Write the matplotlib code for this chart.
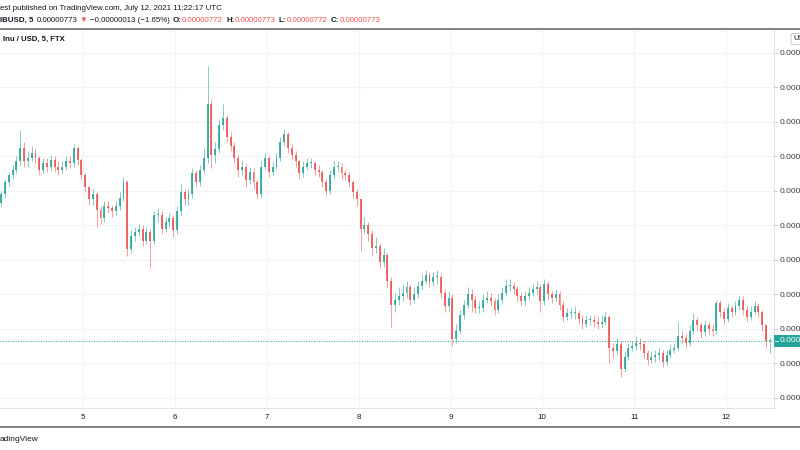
import matplotlib
matplotlib.use("Agg")
import matplotlib.pyplot as plt
from matplotlib.patches import Rectangle
from matplotlib.lines import Line2D
import numpy as np

plt.rcParams['font.family'] = ['Liberation Sans', 'DejaVu Sans']

# ---------------- data (hourly candles, SHIB/USD, prices in units of 1e-8 USD) ----------------
first_hour = 2  # first candle: July 4, 02:00 UTC (hours counted from July 4 00:00)
opens = [853, 858, 865, 869, 872, 877, 885, 877, 879, 882, 879, 872, 876, 874, 878, 874, 872, 874, 877, 876,
         885, 878, 869, 862, 855, 858, 849, 844, 851, 850, 848, 851, 856, 865, 826, 834, 836, 838, 831, 836,
         831, 846, 846, 838, 842, 844, 837, 848, 859, 855, 858, 870, 865, 872, 879, 910, 881, 884, 898, 902,
         891, 886, 879, 872, 874, 866, 871, 865, 858, 874, 879, 871, 874, 879, 888, 893, 885, 881, 877, 870,
         874, 876, 876, 872, 871, 865, 860, 869, 874, 874, 870, 869, 865, 859, 855, 838, 840, 835, 827, 828,
         819, 823, 808, 794, 797, 799, 801, 804, 797, 800, 805, 808, 811, 807, 810, 810, 801, 793, 798, 774,
         779, 788, 794, 800, 797, 792, 792, 797, 798, 796, 791, 797, 801, 805, 805, 803, 799, 796, 799, 801,
         803, 804, 796, 806, 800, 798, 800, 794, 787, 789, 789, 789, 786, 783, 785, 785, 784, 783, 784, 787,
         769, 767, 771, 757, 764, 769, 770, 772, 771, 766, 762, 764, 765, 766, 761, 765, 768, 769, 776, 775,
         772, 779, 785, 782, 778, 782, 780, 779, 795, 790, 786, 792, 790, 793, 797, 791, 787, 790, 793, 790,
         782, 773]
closes = [858, 865, 869, 872, 877, 885, 877, 879, 882, 879, 872, 876, 874, 878, 874, 872, 874, 877, 876, 885,
          878, 869, 862, 855, 858, 849, 844, 851, 850, 848, 851, 856, 865, 826, 834, 836, 838, 831, 836, 831,
          846, 846, 838, 842, 844, 837, 848, 859, 855, 858, 870, 865, 872, 879, 910, 881, 884, 898, 902, 891,
          886, 879, 872, 874, 866, 871, 865, 858, 874, 879, 871, 874, 879, 888, 893, 885, 881, 877, 870, 874,
          876, 876, 872, 871, 865, 860, 869, 874, 874, 870, 869, 865, 859, 855, 838, 840, 835, 827, 828, 819,
          823, 808, 794, 797, 799, 801, 804, 797, 800, 805, 808, 811, 807, 810, 810, 801, 793, 798, 774, 779,
          788, 794, 800, 797, 792, 792, 797, 798, 796, 791, 797, 801, 805, 805, 803, 799, 796, 799, 801, 803,
          804, 796, 806, 800, 798, 800, 794, 787, 789, 789, 789, 786, 783, 785, 785, 784, 783, 784, 787, 769,
          767, 771, 757, 764, 769, 770, 772, 771, 766, 762, 764, 765, 766, 761, 765, 768, 769, 776, 775, 772,
          779, 785, 782, 778, 782, 780, 779, 795, 790, 786, 792, 790, 793, 797, 791, 787, 790, 793, 790, 782,
          773, 773]
highs = [860, 867, 871, 875, 880, 895, 888, 883, 886, 885, 880, 879, 879, 881, 880, 877, 877, 880, 880, 887,
         886, 879, 870, 863, 861, 859, 851, 854, 854, 852, 854, 859, 868, 866, 837, 839, 841, 840, 839, 838,
         848, 850, 848, 845, 847, 846, 851, 864, 861, 861, 873, 872, 875, 885, 932, 913, 888, 901, 910, 904,
         894, 888, 881, 878, 876, 874, 873, 867, 877, 882, 880, 877, 882, 891, 896, 894, 887, 883, 878, 877,
         879, 879, 877, 875, 872, 867, 872, 877, 877, 876, 872, 871, 866, 861, 856, 845, 842, 837, 833, 830,
         827, 824, 810, 801, 804, 806, 808, 806, 804, 808, 812, 814, 813, 813, 814, 812, 803, 802, 800, 783,
         791, 797, 804, 803, 799, 796, 800, 802, 801, 798, 800, 804, 809, 809, 807, 805, 801, 802, 804, 806,
         808, 806, 809, 808, 802, 803, 802, 796, 792, 792, 793, 791, 788, 788, 788, 788, 787, 788, 790, 788,
         772, 775, 773, 767, 772, 773, 776, 775, 773, 768, 767, 768, 769, 768, 768, 771, 772, 784, 779, 777,
         782, 789, 787, 784, 785, 784, 783, 797, 797, 792, 795, 794, 796, 799, 799, 793, 793, 796, 795, 791,
         783, 775]
lows = [851, 856, 863, 867, 870, 875, 874, 874, 877, 876, 869, 870, 871, 872, 871, 869, 870, 872, 873, 874,
        875, 866, 859, 852, 852, 839, 841, 842, 847, 845, 846, 849, 854, 822, 824, 831, 834, 828, 829, 815,
        829, 842, 835, 836, 839, 833, 835, 846, 852, 852, 856, 862, 863, 870, 876, 873, 876, 882, 895, 888,
        883, 876, 868, 869, 862, 864, 861, 855, 856, 872, 868, 869, 872, 877, 886, 882, 878, 874, 867, 868,
        872, 873, 869, 868, 862, 857, 858, 867, 871, 867, 866, 862, 856, 851, 825, 835, 831, 823, 824, 815,
        816, 804, 781, 790, 794, 796, 798, 794, 795, 798, 803, 806, 804, 805, 806, 798, 790, 790, 770, 772,
        777, 786, 792, 790, 789, 789, 790, 795, 793, 788, 789, 795, 799, 802, 800, 796, 793, 794, 797, 799,
        800, 790, 794, 797, 795, 796, 791, 784, 785, 786, 786, 783, 780, 781, 782, 781, 780, 781, 782, 760,
        763, 765, 752, 755, 762, 767, 768, 768, 763, 759, 760, 761, 762, 758, 759, 763, 766, 767, 772, 769,
        770, 777, 779, 775, 776, 777, 776, 777, 787, 783, 784, 787, 788, 791, 788, 784, 785, 788, 787, 779,
        769, 766]
last_price = 773
day_ticks = [5, 6, 7, 8, 9, 10, 11, 12]
price_ticks = [740, 760, 780, 800, 820, 840, 860, 880, 900, 920, 940]

UP = '#26a69a'
DOWN = '#ef5350'
TXT = '#131722'

W, H = 800, 450
fig = plt.figure(figsize=(8, 4.5), dpi=100)


def fx(x):
    return x / W


def fy(y):
    return 1 - y / H


# main chart axes: pixel box x 0..774, y 30..408
ax = fig.add_axes([0, fy(408), fx(774), (408 - 30) / H])
scale = 1e-8
o = np.array(opens) * scale
c = np.array(closes) * scale
h = np.array(highs) * scale
l = np.array(lows) * scale
t = first_hour + 0.5 + np.arange(len(opens))
cols = [UP if cc >= oo else DOWN for oo, cc in zip(o, c)]

ax.vlines(t, l, h, colors=cols, linewidth=0.5, alpha=0.8, zorder=3)
body_h = np.maximum(np.abs(c - o), 0.6 * scale)
ax.bar(t, body_h, bottom=np.minimum(o, c), width=0.5, color=cols, linewidth=0, alpha=0.85, zorder=4)

ax.set_xlim(2.22, 204.57)
ax.set_ylim(734.2 * scale, 953.1 * scale)

ax.set_xticks([(d - 4) * 24 for d in day_ticks])
ax.set_xticklabels([str(d) for d in day_ticks])
ax.set_yticks([p * scale for p in price_ticks])
ax.set_yticklabels([f"{p * scale:.8f}" for p in price_ticks])
ax.yaxis.tick_right()
ax.grid(True, color='#f2f3f6', linewidth=0.8, zorder=0)
ax.tick_params(axis='x', length=0, pad=4.5, labelsize=5.8, labelcolor=TXT)
ax.tick_params(axis='y', length=2.5, width=0.6, color='#b2b5be', pad=1.8, labelsize=6.0, labelcolor='#3a3e4a')
for s in ['top', 'left']:
    ax.spines[s].set_visible(False)
for s in ['right', 'bottom']:
    ax.spines[s].set_color('#e0e3eb')
    ax.spines[s].set_linewidth(0.8)

# current price dotted line
ax.axhline(last_price * scale, color=UP, linestyle=(0, (1, 1.6)), linewidth=0.7, zorder=5)

# frame lines (header / footer separators)
fig.add_artist(Line2D([0, 1], [fy(28.5), fy(28.5)], color='#5d606b', linewidth=1.1))
fig.add_artist(Line2D([0, 1], [fy(427), fy(427)], color='#5d606b', linewidth=1.1))

# current price label on the price scale
fig.add_artist(Rectangle((fx(774), fy(347)), fx(26), 12 / H, facecolor=UP, edgecolor='none', zorder=6))
fig.add_artist(Line2D([fx(775), fx(778)], [fy(341), fy(341)], color='white', linewidth=0.6, zorder=7))
fig.text(fx(780), fy(341), f"{last_price * scale:.8f}", color='white', fontsize=6.0, va='center', ha='left', zorder=7)

# currency box at the top of the price scale
fig.text(fx(793), fy(39), "USD", color=TXT, fontsize=5.6, va='center', ha='left',
         bbox=dict(boxstyle='round,pad=0.25,rounding_size=0.2', facecolor='white', edgecolor='#b2b5be', linewidth=0.5))

# header texts
fig.text(fx(0), fy(9.5), "est published on TradingView.com, July 12, 2021 11:22:17 UTC",
         color=TXT, fontsize=5.7, va='baseline', ha='left')

renderer = fig.canvas.get_renderer()
parts = [
    ("IBUSD, 5", TXT, 'bold', 3.3),
    ("0.00000773", TXT, 'normal', 2.2),
    ("\u25bc", DOWN, 'normal', 2.2),
    ("\u22120.00000013 (\u22121.65%)", TXT, 'normal', 3.3),
    ("O:", TXT, 'bold', 0.3),
    ("0.00000772", DOWN, 'normal', 3.3),
    ("H:", TXT, 'bold', 0.3),
    ("0.00000773", DOWN, 'normal', 3.3),
    ("L:", TXT, 'bold', 0.3),
    ("0.00000772", DOWN, 'normal', 3.3),
    ("C:", TXT, 'bold', 0.3),
    ("0.00000773", DOWN, 'normal', 0),
]
xpos = 0.0
for s, colr, wt, gap in parts:
    txt = fig.text(fx(xpos), fy(21.5), s, color=colr, fontweight=wt, fontsize=5.7, va='baseline', ha='left')
    bb = txt.get_window_extent(renderer=renderer)
    xpos = bb.x1 + gap

fig.text(fx(3), fy(40.5), "Inu / USD, 5, FTX", color=TXT, fontweight='bold', fontsize=5.6,
         va='baseline', ha='left')

# footer
fig.text(fx(0), fy(441), "adingView", color=TXT, fontsize=6.0, va='baseline', ha='left')

fig.savefig("out.png", dpi=100)
